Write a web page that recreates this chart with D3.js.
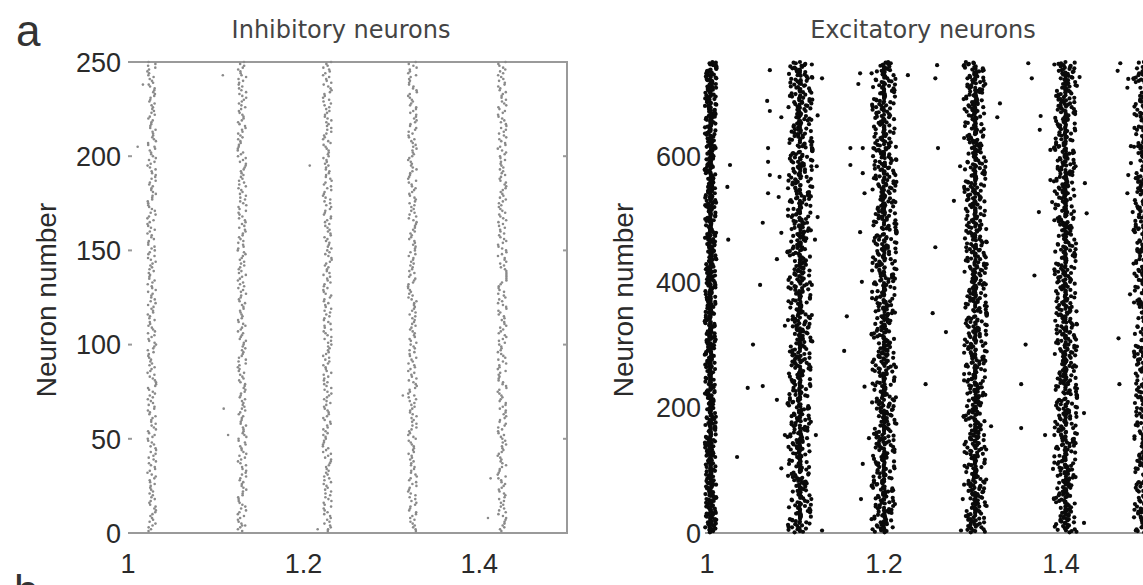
<!DOCTYPE html>
<html>
<head>
<meta charset="utf-8">
<script src="https://cdn.jsdelivr.net/npm/d3@7"></script>
<style>
  html, body { margin: 0; background: #fff; }
  svg { display: block; }
  .tick-label { font-family: "Liberation Sans", Arial, sans-serif; font-size: 27px; fill: #2a2a2a; }
  .title { font-family: "DejaVu Sans", sans-serif; font-size: 24px; fill: #444; }
  .axis-label { font-family: "Liberation Sans", Arial, sans-serif; font-size: 28px; fill: #2a2a2a; }
  .panel-letter { font-family: "Liberation Sans", Arial, sans-serif; font-size: 44px; fill: #333; }
  .frame { stroke: #9a9a9a; stroke-width: 2; fill: none; }
</style>
</head>
<body>
<svg id="chart" width="1143" height="585"></svg>
<script>
const inhBursts = [1.027, 1.13, 1.227, 1.324, 1.426];
const excBursts = [1.004, 1.105, 1.2, 1.303, 1.405, 1.495];
// Half-width of each excitatory burst (s)
const excSpread = [0.0065, 0.014, 0.014, 0.013, 0.013, 0.013];
const inhSpread = 0.005;
const inhCount = 250;
const excCount = 750;

// Per-neuron offsets inside a burst, two digits per spike (estimated from the raster)
const spikeJitter = [
  "31415926535897932384626433832795028841971693993751",
  "05820974944592307816406286208998628034825342117067",
  "98214808651328230664709384460955058223172535940812",
  "84811174502841027019385211055596446229489549303819",
  "64428810975665933446128475648233786783165271201909",
  "14564856692346034861045432664821339360726024914127",
  "37245870066063155881748815209209628292540917153643",
  "67892590360011330530548820466521384146951941511609",
  "43305727036575959195309218611738193261179310511854",
  "80744623799627495673518857527248912279381830119491",
  "29833673362440656643086021394946395224737190702179",
  "86094370277053921717629317675238467481846766940513",
  "20005681271452635608277857713427577896091736371787",
  "21468440901224953430146549585371050792279689258923",
  "54201995611212902196086403441815981362977477130996",
  "05187072113499999983729780499510597317328160963185",
].join("");

// Isolated spikes outside the bursts: [time (s), neuron]
const inhStray = [
  [1.109, 66], [1.114, 52], [1.216, 2], [1.313, 73], [1.413, 29], [1.011, 205],
  [1.108, 243], [1.017, 238], [1.207, 195], [1.13, 4], [1.41, 8],
];
const excStray = [
  [1.071, 737], [1.068, 688], [1.071, 672], [1.084, 662], [1.13, 724], [1.125, 665],
  [1.069, 613], [1.071, 570], [1.082, 567], [1.124, 584], [1.063, 494], [1.084, 478],
  [1.079, 436], [1.122, 467], [1.125, 503], [1.173, 732], [1.186, 732], [1.227, 729],
  [1.162, 613], [1.176, 613], [1.188, 613], [1.176, 573], [1.173, 479], [1.26, 745],
  [1.258, 724], [1.261, 613], [1.258, 455], [1.026, 586], [1.024, 467], [1.023, 551],
  [1.363, 748], [1.367, 724], [1.377, 664], [1.331, 684], [1.467, 748], [1.476, 723],
  [1.479, 616], [1.476, 570], [1.481, 511], [1.375, 511], [1.388, 562], [1.388, 610],
  [1.429, 509], [1.427, 557], [1.421, 726], [1.39, 527], [1.046, 231], [1.063, 234],
  [1.034, 121], [1.084, 103], [1.088, 156], [1.079, 212], [1.13, 4], [1.123, 156],
  [1.174, 54], [1.183, 151], [1.176, 110], [1.178, 233], [1.247, 237], [1.355, 237],
  [1.355, 167], [1.382, 156], [1.391, 102], [1.287, 4], [1.289, 54], [1.321, 170],
  [1.426, 16], [1.426, 191], [1.466, 237], [1.483, 150], [1.171, 715], [1.162, 586],
  [1.178, 541], [1.286, 584], [1.279, 529], [1.328, 662], [1.376, 642], [1.479, 589],
  [1.475, 541], [1.464, 736], [1.475, 709], [1.069, 591], [1.069, 541], [1.081, 535],
  [1.052, 300], [1.088, 330], [1.155, 290], [1.27, 320], [1.36, 300], [1.465, 310],
  [1.06, 395], [1.175, 400], [1.37, 410], [1.478, 380], [1.255, 350], [1.158, 345],
];

const inhTicksY = [0, 50, 100, 150, 200, 250];
const excTicksY = [0, 200, 400, 600];
const timeTicks = [1, 1.2, 1.4];

// 1) Scales for both panels
const svg = d3.select("#chart");
const inhX = d3.scaleLinear().domain([1, 1.5]).range([128, 567]);
const inhY = d3.scaleLinear().domain([0, 250]).range([533, 62]);
const excX = d3.scaleLinear().domain([1, 1.5]).range([707, 1149.5]);
const excY = d3.scaleLinear().domain([0, 750]).range([533, 62]);

// two consecutive digits -> value in [-1, 1]
function jitter(i) {
  const L = spikeJitter.length;
  const a = +spikeJitter[i % L];
  const b = +spikeJitter[(i + 1) % L];
  return ((a * 10 + b) / 99) * 2 - 1;
}

// 2) Build spike lists
const inhSpikes = [];
inhBursts.forEach((t0, b) => {
  for (let n = 1; n <= inhCount; n++) {
    inhSpikes.push([t0 + inhSpread * jitter(n + b * 157), n]);
  }
});
inhStray.forEach((s) => inhSpikes.push(s));

const excSpikes = [];
excBursts.forEach((t0, b) => {
  for (let n = 1; n <= excCount; n++) {
    const v = jitter(n + b * 131 + 23);
    // bursts are dense in the middle, sparse at the edges
    excSpikes.push([t0 + excSpread[b] * Math.sign(v) * v * v, n]);
  }
});
excStray.forEach((s) => excSpikes.push(s));

// 3) Inhibitory panel: frame (no left spine), ticks, dots
const inh = svg.append("g");
inh.append("path").attr("class", "frame")
  .attr("d", `M${inhX(1)},${inhY(250)}H${inhX(1.5)}V${inhY(0)}H${inhX(1)}`);
inh.selectAll("line.ltick").data(inhTicksY).join("line")
  .attr("class", "frame")
  .attr("x1", inhX(1)).attr("x2", inhX(1) + 4)
  .attr("y1", (d) => inhY(d)).attr("y2", (d) => inhY(d));
inh.selectAll("line.rtick").data(inhTicksY).join("line")
  .attr("class", "frame")
  .attr("x1", inhX(1.5)).attr("x2", inhX(1.5) - 4)
  .attr("y1", (d) => inhY(d)).attr("y2", (d) => inhY(d));

inh.selectAll("circle").data(inhSpikes).join("circle")
  .attr("cx", (d) => inhX(d[0]))
  .attr("cy", (d) => inhY(d[1]))
  .attr("r", 1.3)
  .attr("fill", "#8a8a8a");

inh.selectAll("text.yt").data(inhTicksY).join("text")
  .attr("class", "tick-label yt")
  .attr("x", 121).attr("y", (d) => inhY(d)).attr("dy", "0.36em")
  .attr("text-anchor", "end")
  .text((d) => d);
inh.selectAll("text.xt").data(timeTicks).join("text")
  .attr("class", "tick-label xt")
  .attr("x", (d) => inhX(d)).attr("y", 573)
  .attr("text-anchor", "middle")
  .text((d) => d);
inh.append("text").attr("class", "title")
  .attr("x", 341).attr("y", 38).attr("text-anchor", "middle")
  .text("Inhibitory neurons");
inh.append("text").attr("class", "axis-label")
  .attr("transform", "translate(56,300) rotate(-90)")
  .attr("text-anchor", "middle")
  .text("Neuron number");

// 4) Excitatory panel: bottom spine only, dots
const exc = svg.append("g");
exc.append("line").attr("class", "frame")
  .attr("x1", 705).attr("x2", 1143)
  .attr("y1", excY(0)).attr("y2", excY(0));

exc.selectAll("circle").data(excSpikes).join("circle")
  .attr("cx", (d) => excX(d[0]))
  .attr("cy", (d) => excY(d[1]))
  .attr("r", 2.1)
  .attr("fill", "#0a0a0a");

exc.selectAll("text.yt").data(excTicksY).join("text")
  .attr("class", "tick-label yt")
  .attr("x", 701).attr("y", (d) => excY(d)).attr("dy", "0.36em")
  .attr("text-anchor", "end")
  .text((d) => d);
exc.selectAll("text.xt").data(timeTicks).join("text")
  .attr("class", "tick-label xt")
  .attr("x", (d) => excX(d)).attr("y", 573)
  .attr("text-anchor", "middle")
  .text((d) => d);
exc.append("text").attr("class", "title")
  .attr("x", 923).attr("y", 38).attr("text-anchor", "middle")
  .text("Excitatory neurons");
exc.append("text").attr("class", "axis-label")
  .attr("transform", "translate(633,300) rotate(-90)")
  .attr("text-anchor", "middle")
  .text("Neuron number");

// 5) Panel letters ("b" is cut by the bottom edge, as in the source figure)
svg.append("text").attr("class", "panel-letter").attr("x", 16).attr("y", 46).text("a");
svg.append("text").attr("class", "panel-letter").attr("x", 14).attr("y", 606).text("b");
</script>
</body>
</html>
